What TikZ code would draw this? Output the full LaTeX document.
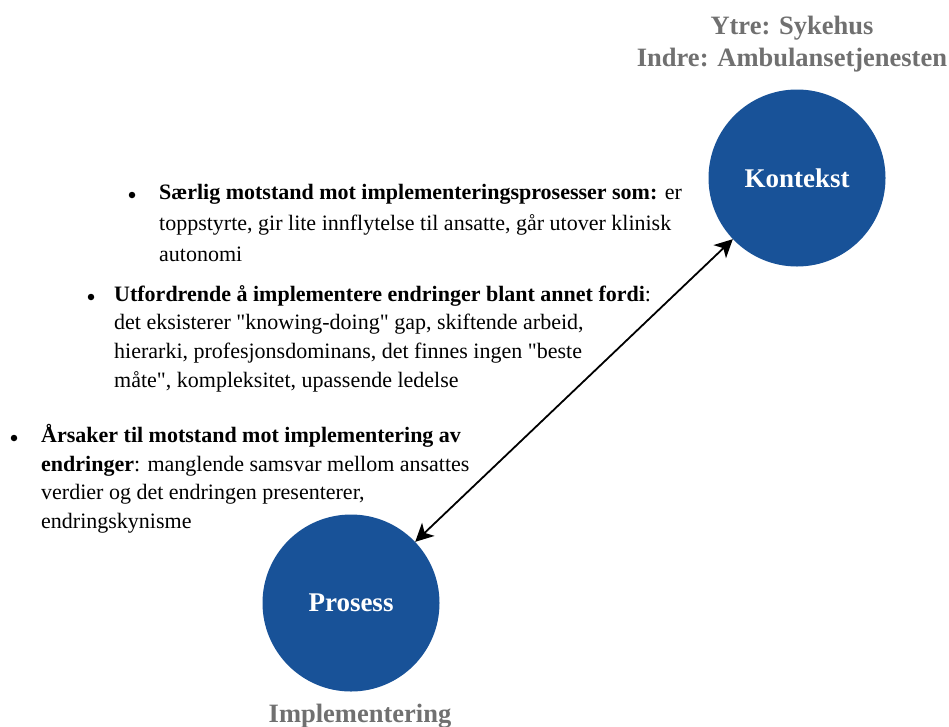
\documentclass[tikz,border=0pt]{standalone}
\usepackage{fontspec}
\setmainfont{Liberation Serif}[Ligatures=TeXOff]
\usetikzlibrary{arrows.meta}
\definecolor{circblue}{RGB}{24,82,152}
\definecolor{labelgray}{RGB}{112,112,112}
\begin{document}
\begin{tikzpicture}[x=1pt,y=-1pt,
  phase/.style={circle, fill=circblue, minimum size=177pt, inner sep=0pt,
    text=white, font=\fontsize{27}{30}\selectfont\bfseries},
  tag/.style={text=labelgray, font=\fontsize{26.5}{32}\selectfont\bfseries,
    align=center, inner sep=0pt},
  note/.style={anchor=base west, inner sep=0pt},
  dot/.style={circle, fill=black, inner sep=0pt, minimum size=6.5pt},
  link/.style={{Stealth[length=18pt,width=18pt,inset=5pt]}-{Stealth[length=18pt,width=18pt,inset=5pt]},
    line width=1.8pt}
]
\useasboundingbox (0,0) rectangle (949,726);

% the two phases
\node[phase] (kontekst) at (797,178) {Kontekst};
\node[phase] (prosess) at (351,603) {Prosess};

% captions
\node[tag, anchor=base] (ytre) at (792,66) {Ytre: Sykehus\\Indre: Ambulansetjenesten};
\node[tag, anchor=base] (impl) at (360,722) {Implementering};

% link between the phases
\draw[link] (kontekst) -- (prosess);

% bullet notes
\node[dot] (b1) at (132,195) {};
\node[note] (n1) at (159,199) {\fontsize{22}{31}\selectfont
\begin{tabular}[t]{@{}l@{}}
\textbf{Særlig motstand mot implementeringsprosesser som:} er\\
toppstyrte, gir lite innflytelse til ansatte, går utover klinisk\\
autonomi
\end{tabular}};

\node[dot] (b2) at (91,297) {};
\node[note] (n2) at (114,301) {\fontsize{22}{28.7}\selectfont
\begin{tabular}[t]{@{}l@{}}
\textbf{Utfordrende å implementere endringer blant annet fordi}:\\
det eksisterer "knowing-doing" gap, skiftende arbeid,\\
hierarki, profesjonsdominans, det finnes ingen "beste\\
måte", kompleksitet, upassende ledelse
\end{tabular}};

\node[dot] (b3) at (14,438) {};
\node[note] (n3) at (41,442.5) {\fontsize{22}{28.5}\selectfont
\begin{tabular}[t]{@{}l@{}}
\textbf{Årsaker til motstand mot implementering av}\\
\textbf{endringer}: manglende samsvar mellom ansattes\\
verdier og det endringen presenterer,\\
endringskynisme
\end{tabular}};
\end{tikzpicture}
\end{document}
